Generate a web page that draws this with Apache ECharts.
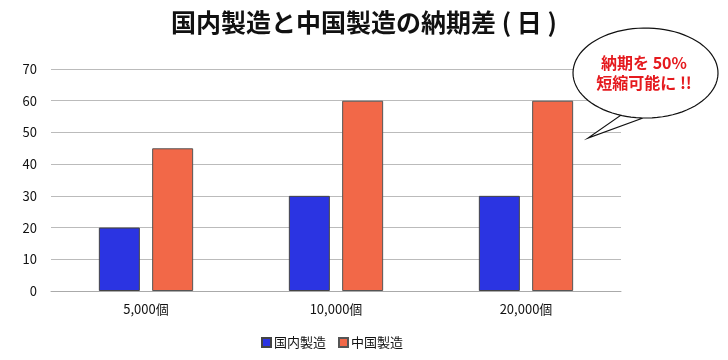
<!DOCTYPE html>
<html><head><meta charset="utf-8">
<script src="https://cdn.jsdelivr.net/npm/echarts@6/dist/echarts.min.js"></script>
<style>html,body{margin:0;padding:0;background:#fff}#c{width:728px;height:360px}</style>
</head><body><div id="c"></div>
<script>
var categories = ['5,000個', '10,000個', '20,000個'];
var domestic = [20, 30, 30];
var china = [45, 60, 60];
var seriesNames = ['国内製造', '中国製造'];
var yTicks = {min: 0, max: 70, interval: 10};
var FONT = '"Noto Sans CJK JP", "Noto Sans", sans-serif';

// speech bubble outline (decoration)
function bubblePoints(cx, cy, rx, ry, a1, a2, tip) {
  var pts = [];
  var steps = 90;
  for (var i = 0; i <= steps; i++) {
    var t = (a1 - (360 - (a1 - a2)) * i / steps) * Math.PI / 180;
    pts.push([cx + rx * Math.cos(t), cy + ry * Math.sin(t)]);
  }
  pts.push(tip);
  return pts;
}

var chart = echarts.init(document.getElementById('c'));
chart.setOption({
  animation: false,
  textStyle: {fontFamily: FONT},
  title: {
    text: '国内製造と中国製造の納期差 ( 日 )',
    left: 'center', top: 5,
    textStyle: {fontSize: 25, fontWeight: 'bold', color: '#111', fontFamily: FONT}
  },
  legend: {
    top: 331, left: 256,
    itemWidth: 9, itemHeight: 9, itemGap: 12,
    icon: 'rect',
    textStyle: {fontSize: 13, color: '#111', fontFamily: FONT, padding: [0, 0, 0, -2]},
    data: seriesNames
  },
  grid: {left: 51, right: 107, top: 69, bottom: 69},
  xAxis: {
    type: 'category', data: categories,
    axisLine: {show: true, lineStyle: {color: '#aaa'}},
    axisTick: {show: false},
    axisLabel: {fontSize: 13, color: '#111', margin: 12, fontFamily: FONT}
  },
  yAxis: {
    type: 'value', min: yTicks.min, max: yTicks.max, interval: yTicks.interval,
    axisLine: {show: false}, axisTick: {show: false},
    axisLabel: {fontSize: 13, color: '#111', margin: 14, fontFamily: FONT},
    splitLine: {lineStyle: {color: '#bbb', width: 1}}
  },
  series: [
    {name: seriesNames[0], type: 'bar', data: domestic, barWidth: 41, barGap: '30%',
     itemStyle: {color: '#2B34E2', borderColor: '#444', borderWidth: 1}},
    {name: seriesNames[1], type: 'bar', data: china, barWidth: 41,
     itemStyle: {color: '#F26848', borderColor: '#555', borderWidth: 1}}
  ],
  graphic: [
    {type: 'polygon', z: 100,
     shape: {points: bubblePoints(645.5, 73, 72.5, 45, 110, 128, [588, 138])},
     style: {fill: '#fff', stroke: '#111', lineWidth: 1.2}},
    {type: 'text', z: 101, x: 644, y: 53,
     style: {text: '納期を 50%\n短縮可能に !!', fill: '#E51A1E', font: 'bold 16px ' + FONT,
             align: 'center', lineHeight: 20}}
  ]
});
</script></body></html>
